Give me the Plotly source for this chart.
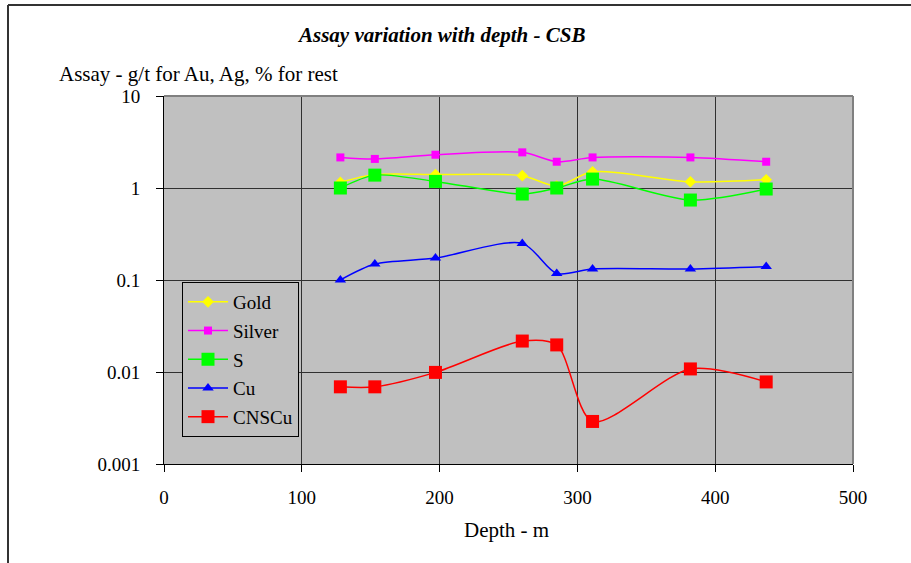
import plotly.graph_objects as go

depth = [128, 153, 197, 260, 285, 311, 382, 437]
gold = [1.15, 1.4, 1.4, 1.36, 1.05, 1.5, 1.17, 1.23]
silver = [2.15, 2.07, 2.3, 2.44, 1.93, 2.15, 2.15, 1.93]
sulphur = [1.0, 1.38, 1.18, 0.86, 1.0, 1.25, 0.74, 0.975]
copper = [0.1, 0.149, 0.173, 0.25, 0.118, 0.132, 0.132, 0.14]
cnscu = [0.0069, 0.0069, 0.0099, 0.0217, 0.0197, 0.0029, 0.0108, 0.0078]

ytick_vals = [0.001, 0.01, 0.1, 1, 10]
ytick_text = ["0.001", "0.01", "0.1", "1", "10"]
xtick_vals = [0, 100, 200, 300, 400, 500]

FONT = "Liberation Serif, Times New Roman, serif"

series = [
    ("Gold", gold, "#FFFF00", "diamond", 9),
    ("Silver", silver, "#FF00FF", "square", 8),
    ("S", sulphur, "#00FF00", "square", 13),
    ("Cu", copper, "#0000FF", "triangle-up", 10),
    ("CNSCu", cnscu, "#FF0000", "square", 13),
]

fig = go.Figure()
for name, vals, col, sym, sz in series:
    fig.add_trace(go.Scatter(
        x=depth, y=vals, name=name, mode="lines+markers",
        legendgroup=name,
        line=dict(color=col, width=1.5, shape="spline", smoothing=0.8),
        marker=dict(color=col, symbol=sym, size=sz, line=dict(width=0)),
    ))

L, R, T, B = 164, 853, 96, 464
W, H = 911, 563

def px(x):
    return (x - L) / (R - L)

def py(y):
    return (B - y) / (B - T)

fig.update_layout(
    width=W, height=H,
    margin=dict(l=L, r=W - R, t=T, b=H - B, pad=0),
    paper_bgcolor="white",
    plot_bgcolor="#C0C0C0",
    font=dict(family=FONT, size=19, color="black"),
    showlegend=True,
    legend=dict(
        x=px(182), y=py(282), xanchor="left", yanchor="top",
        bgcolor="#C0C0C0", bordercolor="black", borderwidth=1,
        font=dict(family=FONT, size=19, color="black"),
        tracegroupgap=1, itemwidth=40,
    ),
    xaxis=dict(
        range=[0, 500], tickvals=xtick_vals,
        showgrid=True, gridcolor="#303030", gridwidth=1,
        showline=True, linecolor="black", linewidth=1,
        ticks="outside", ticklen=7, tickcolor="black",
        ticklabelstandoff=9, zeroline=False,
        tickfont=dict(family=FONT, size=19),
    ),
    yaxis=dict(
        type="log", range=[-3, 1], tickvals=ytick_vals, ticktext=ytick_text,
        showgrid=True, gridcolor="#303030", gridwidth=1,
        showline=True, linecolor="black", linewidth=1,
        ticks="outside", ticklen=7, tickcolor="black",
        ticklabelstandoff=12, zeroline=False,
        tickfont=dict(family=FONT, size=19),
    ),
    annotations=[
        dict(text="<b><i>Assay variation with depth - CSB</i></b>",
             xref="paper", yref="paper", x=px(441), y=py(35),
             xanchor="center", yanchor="middle", showarrow=False,
             font=dict(family=FONT, size=21)),
        dict(text="Assay - g/t for Au, Ag, % for rest",
             xref="paper", yref="paper", x=px(57), y=py(74),
             xanchor="left", yanchor="middle", showarrow=False,
             font=dict(family=FONT, size=21)),
        dict(text="Depth - m",
             xref="paper", yref="paper", x=px(506), y=py(530),
             xanchor="center", yanchor="middle", showarrow=False,
             font=dict(family=FONT, size=21)),
    ],
    shapes=[
        dict(type="line", xref="paper", yref="paper",
             x0=0, x1=1, y0=1, y1=1, line=dict(color="#808080", width=2)),
        dict(type="line", xref="paper", yref="paper",
             x0=1, x1=1, y0=0, y1=1, line=dict(color="#808080", width=2)),
        dict(type="line", xref="paper", yref="paper",
             x0=px(8), x1=px(911), y0=py(5), y1=py(5),
             line=dict(color="#333333", width=2)),
        dict(type="line", xref="paper", yref="paper",
             x0=px(8), x1=px(8), y0=py(5), y1=py(563),
             line=dict(color="#333333", width=2)),
    ],
)

fig.write_html("out.html", config={"displayModeBar": False},
               post_script="document.body.style.margin='0px';")
